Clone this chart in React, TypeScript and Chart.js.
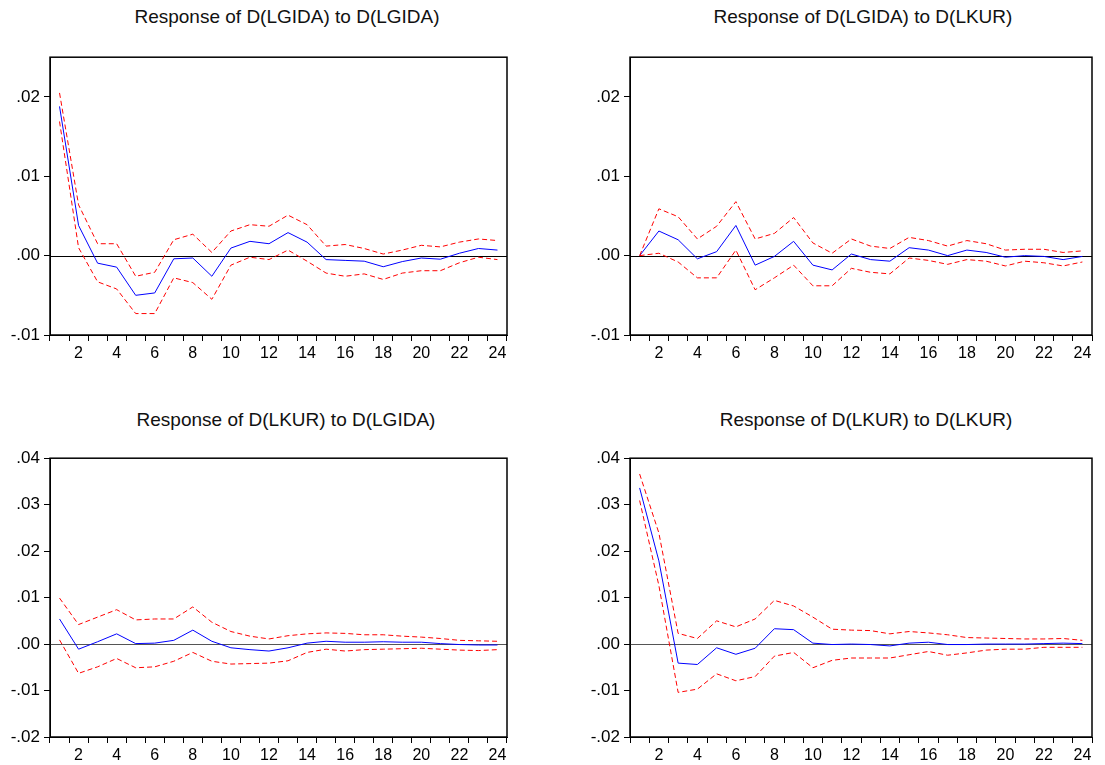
import React, { useEffect, useRef } from "react";
import { Chart, registerables } from "chart.js";

Chart.register(...registerables);

const periods = ["1","2","3","4","5","6","7","8","9","10","11","12","13","14","15","16","17","18","19","20","21","22","23","24"];

// Response of D(LGIDA) to D(LGIDA)
const gg_resp = [0.0188,0.0038,-0.00095,-0.00145,-0.0050,-0.0047,-0.0004,-0.0003,-0.0026,0.00095,0.0018,0.0015,0.0029,0.0017,-0.0005,-0.0006,-0.0007,-0.0014,-0.00075,-0.0003,-0.00045,0.0003,0.0009,0.0007];
const gg_up = [0.0205,0.0064,0.0015,0.0015,-0.0026,-0.0021,0.0020,0.0027,0.0004,0.0031,0.0039,0.0037,0.0051,0.0039,0.0012,0.0014,0.0009,0.0002,0.0007,0.0013,0.0011,0.0017,0.0021,0.0019];
const gg_lo = [0.0169,0.0010,-0.0033,-0.0042,-0.0073,-0.0073,-0.0028,-0.0034,-0.0055,-0.0012,-0.0002,-0.0005,0.0007,-0.0007,-0.0022,-0.0026,-0.0023,-0.0030,-0.0022,-0.0019,-0.0019,-0.0009,-0.0002,-0.0005];

// Response of D(LGIDA) to D(LKUR)
const gk_resp = [0,0.0031,0.0020,-0.0004,0.0005,0.0038,-0.0012,-0.0001,0.0018,-0.0012,-0.0018,0.0002,-0.0005,-0.0007,0.0010,0.0007,0.0000,0.0007,0.0004,-0.0002,0.0000,-0.0001,-0.0005,-0.0001];
const gk_up = [0,0.0059,0.0049,0.0021,0.0037,0.0068,0.0021,0.0028,0.0048,0.0016,0.0003,0.0021,0.0012,0.0009,0.0023,0.0019,0.0012,0.0019,0.0015,0.0007,0.0008,0.0008,0.0004,0.0006];
const gk_lo = [0,0.0003,-0.0008,-0.0028,-0.0028,0.0007,-0.0043,-0.0028,-0.0012,-0.0038,-0.0038,-0.0016,-0.0021,-0.0023,-0.0003,-0.0006,-0.0011,-0.0005,-0.0007,-0.0013,-0.0007,-0.0009,-0.0013,-0.0008];

// Response of D(LKUR) to D(LGIDA)
const kg_resp = [0.0054,-0.0011,0.0005,0.0022,0.0001,0.0002,0.0008,0.0030,0.0006,-0.0008,-0.0012,-0.0015,-0.0008,0.0002,0.0006,0.0004,0.0004,0.0005,0.0004,0.0004,0.0001,-0.0001,-0.0002,-0.0002];
const kg_up = [0.0099,0.0042,0.0058,0.0074,0.0052,0.0054,0.0054,0.0080,0.0047,0.0027,0.0017,0.0011,0.0018,0.0022,0.0024,0.0023,0.0020,0.0020,0.0017,0.0015,0.0012,0.0008,0.0007,0.0006];
const kg_lo = [0.0009,-0.0063,-0.0049,-0.0031,-0.0051,-0.0049,-0.0037,-0.0018,-0.0037,-0.0043,-0.0042,-0.0041,-0.0036,-0.0018,-0.0011,-0.0015,-0.0012,-0.0011,-0.0010,-0.0009,-0.0011,-0.0013,-0.0014,-0.0012];

// Response of D(LKUR) to D(LKUR)
const kk_resp = [0.0336,0.0179,-0.0041,-0.0044,-0.0008,-0.0022,-0.0009,0.0033,0.0031,0.0002,-0.0001,0.0000,-0.0001,-0.0004,0.0002,0.0004,-0.0001,-0.0001,0.0000,0.0000,0.0000,0.0001,0.0002,0.0001];
const kk_up = [0.0366,0.0239,0.0023,0.0012,0.0050,0.0037,0.0054,0.0094,0.0082,0.0058,0.0032,0.0030,0.0029,0.0022,0.0027,0.0024,0.0020,0.0014,0.0013,0.0012,0.0011,0.0011,0.0012,0.0008];
const kk_lo = [0.0309,0.0126,-0.0104,-0.0097,-0.0064,-0.0079,-0.0070,-0.0026,-0.0018,-0.0051,-0.0035,-0.0030,-0.0030,-0.0030,-0.0023,-0.0016,-0.0024,-0.0019,-0.0013,-0.0011,-0.0011,-0.0007,-0.0007,-0.0007];

const topTicks = [-0.01, 0, 0.01, 0.02];
const bottomTicks = [-0.02, -0.01, 0, 0.01, 0.02, 0.03, 0.04];

const titles = [
  "Response of D(LGIDA) to D(LGIDA)",
  "Response of D(LGIDA) to D(LKUR)",
  "Response of D(LKUR) to D(LGIDA)",
  "Response of D(LKUR) to D(LKUR)",
];

const FONT = "'Liberation Sans', Arial, sans-serif";

function fmt(v: number): string {
  const s = Math.abs(v).toFixed(2).replace(/^0/, "");
  return v < -1e-9 ? "-" + s : s;
}

type PanelProps = {
  plot: [number, number, number, number];
  yMin: number;
  yMax: number;
  yTicks: number[];
  resp: number[];
  up: number[];
  lo: number[];
  zeroColor: string;
};

const Y_W = 50;
const X_H = 30;
const PAD = 10;

function Panel(p: PanelProps) {
  const ref = useRef<HTMLCanvasElement | null>(null);
  const [pl, pt, pr, pb] = p.plot;
  const left = pl - Y_W;
  const top = pt - PAD;
  const width = pr - left + PAD;
  const height = pb - top + X_H;

  useEffect(() => {
    if (!ref.current) return;
    const framePlugin = {
      id: "frame",
      beforeDatasetsDraw(chart: any) {
        const { ctx, chartArea, scales } = chart;
        ctx.save();
        const y0 = Math.round(scales.y.getPixelForValue(0)) + 0.5;
        ctx.strokeStyle = p.zeroColor;
        ctx.lineWidth = 1.2;
        ctx.beginPath();
        ctx.moveTo(chartArea.left, y0);
        ctx.lineTo(chartArea.right, y0);
        ctx.stroke();
        ctx.restore();
      },
      afterDatasetsDraw(chart: any) {
        const { ctx, chartArea } = chart;
        ctx.save();
        ctx.strokeStyle = "#000";
        ctx.lineWidth = 1.5;
        ctx.strokeRect(chartArea.left, chartArea.top, chartArea.right - chartArea.left, chartArea.bottom - chartArea.top);
        ctx.restore();
      },
    };
    const chart = new Chart(ref.current, {
      type: "line",
      data: {
        labels: periods,
        datasets: [
          { data: p.up, borderColor: "#ff0000", borderWidth: 1, borderDash: [5, 3], pointRadius: 0, tension: 0, fill: false },
          { data: p.lo, borderColor: "#ff0000", borderWidth: 1, borderDash: [5, 3], pointRadius: 0, tension: 0, fill: false },
          { data: p.resp, borderColor: "#0000ff", borderWidth: 1, pointRadius: 0, tension: 0, fill: false },
        ],
      },
      options: {
        responsive: false,
        animation: false,
        devicePixelRatio: 1,
        layout: { padding: { top: PAD, right: PAD, left: 0, bottom: 0 } },
        plugins: { legend: { display: false }, title: { display: false }, tooltip: { enabled: false } },
        scales: {
          x: {
            type: "category",
            offset: true,
            grid: { offset: true, drawOnChartArea: false, drawTicks: true, tickLength: 6, color: "#000", lineWidth: 1 },
            border: { display: true, color: "#000", width: 1 },
            ticks: {
              autoSkip: false,
              maxRotation: 0,
              minRotation: 0,
              padding: 3,
              color: "#000",
              font: { family: FONT, size: 16 },
              callback: (_v: any, i: number) => ((i + 1) % 2 === 0 ? periods[i] : ""),
            },
            afterFit: (s: any) => { s.height = X_H; },
          },
          y: {
            type: "linear",
            min: p.yMin,
            max: p.yMax,
            afterBuildTicks: (s: any) => { s.ticks = p.yTicks.map((v) => ({ value: v })); },
            grid: { drawOnChartArea: false, drawTicks: true, tickLength: 6, color: "#000", lineWidth: 1 },
            border: { display: true, color: "#000", width: 1 },
            ticks: {
              padding: 4,
              color: "#000",
              font: { family: FONT, size: 17 },
              callback: (v: any) => fmt(Number(v)),
            },
            afterFit: (s: any) => { s.width = Y_W; },
          },
        },
      },
      plugins: [framePlugin],
    } as any);
    return () => chart.destroy();
  }, []);

  return (
    <canvas
      ref={ref}
      width={width}
      height={height}
      style={{ position: "absolute", left, top, width, height }}
    />
  );
}

function Title({ text, cx, top }: { text: string; cx: number; top: number }) {
  return (
    <div
      style={{
        position: "absolute",
        left: cx - 200,
        top,
        width: 400,
        textAlign: "center",
        fontFamily: FONT,
        fontSize: 19,
        lineHeight: "19px",
        color: "#111",
        whiteSpace: "nowrap",
      }}
    >
      {text}
    </div>
  );
}

export default function App() {
  return (
    <div style={{ position: "absolute", left: 0, top: 0, width: 1105, height: 765, background: "#fff", overflow: "hidden" }}>
      <Title text={titles[0]} cx={287} top={7} />
      <Title text={titles[1]} cx={863} top={7} />
      <Title text={titles[2]} cx={286} top={410} />
      <Title text={titles[3]} cx={866} top={410} />
      <Panel plot={[50, 53, 507, 335]} yMin={-0.01} yMax={0.025} yTicks={topTicks} resp={gg_resp} up={gg_up} lo={gg_lo} zeroColor="#000" />
      <Panel plot={[630, 53, 1092, 335]} yMin={-0.01} yMax={0.025} yTicks={topTicks} resp={gk_resp} up={gk_up} lo={gk_lo} zeroColor="#000" />
      <Panel plot={[50, 454, 507, 737]} yMin={-0.02} yMax={0.04} yTicks={bottomTicks} resp={kg_resp} up={kg_up} lo={kg_lo} zeroColor="#555" />
      <Panel plot={[630, 454, 1092, 737]} yMin={-0.02} yMax={0.04} yTicks={bottomTicks} resp={kk_resp} up={kk_up} lo={kk_lo} zeroColor="#555" />
    </div>
  );
}
